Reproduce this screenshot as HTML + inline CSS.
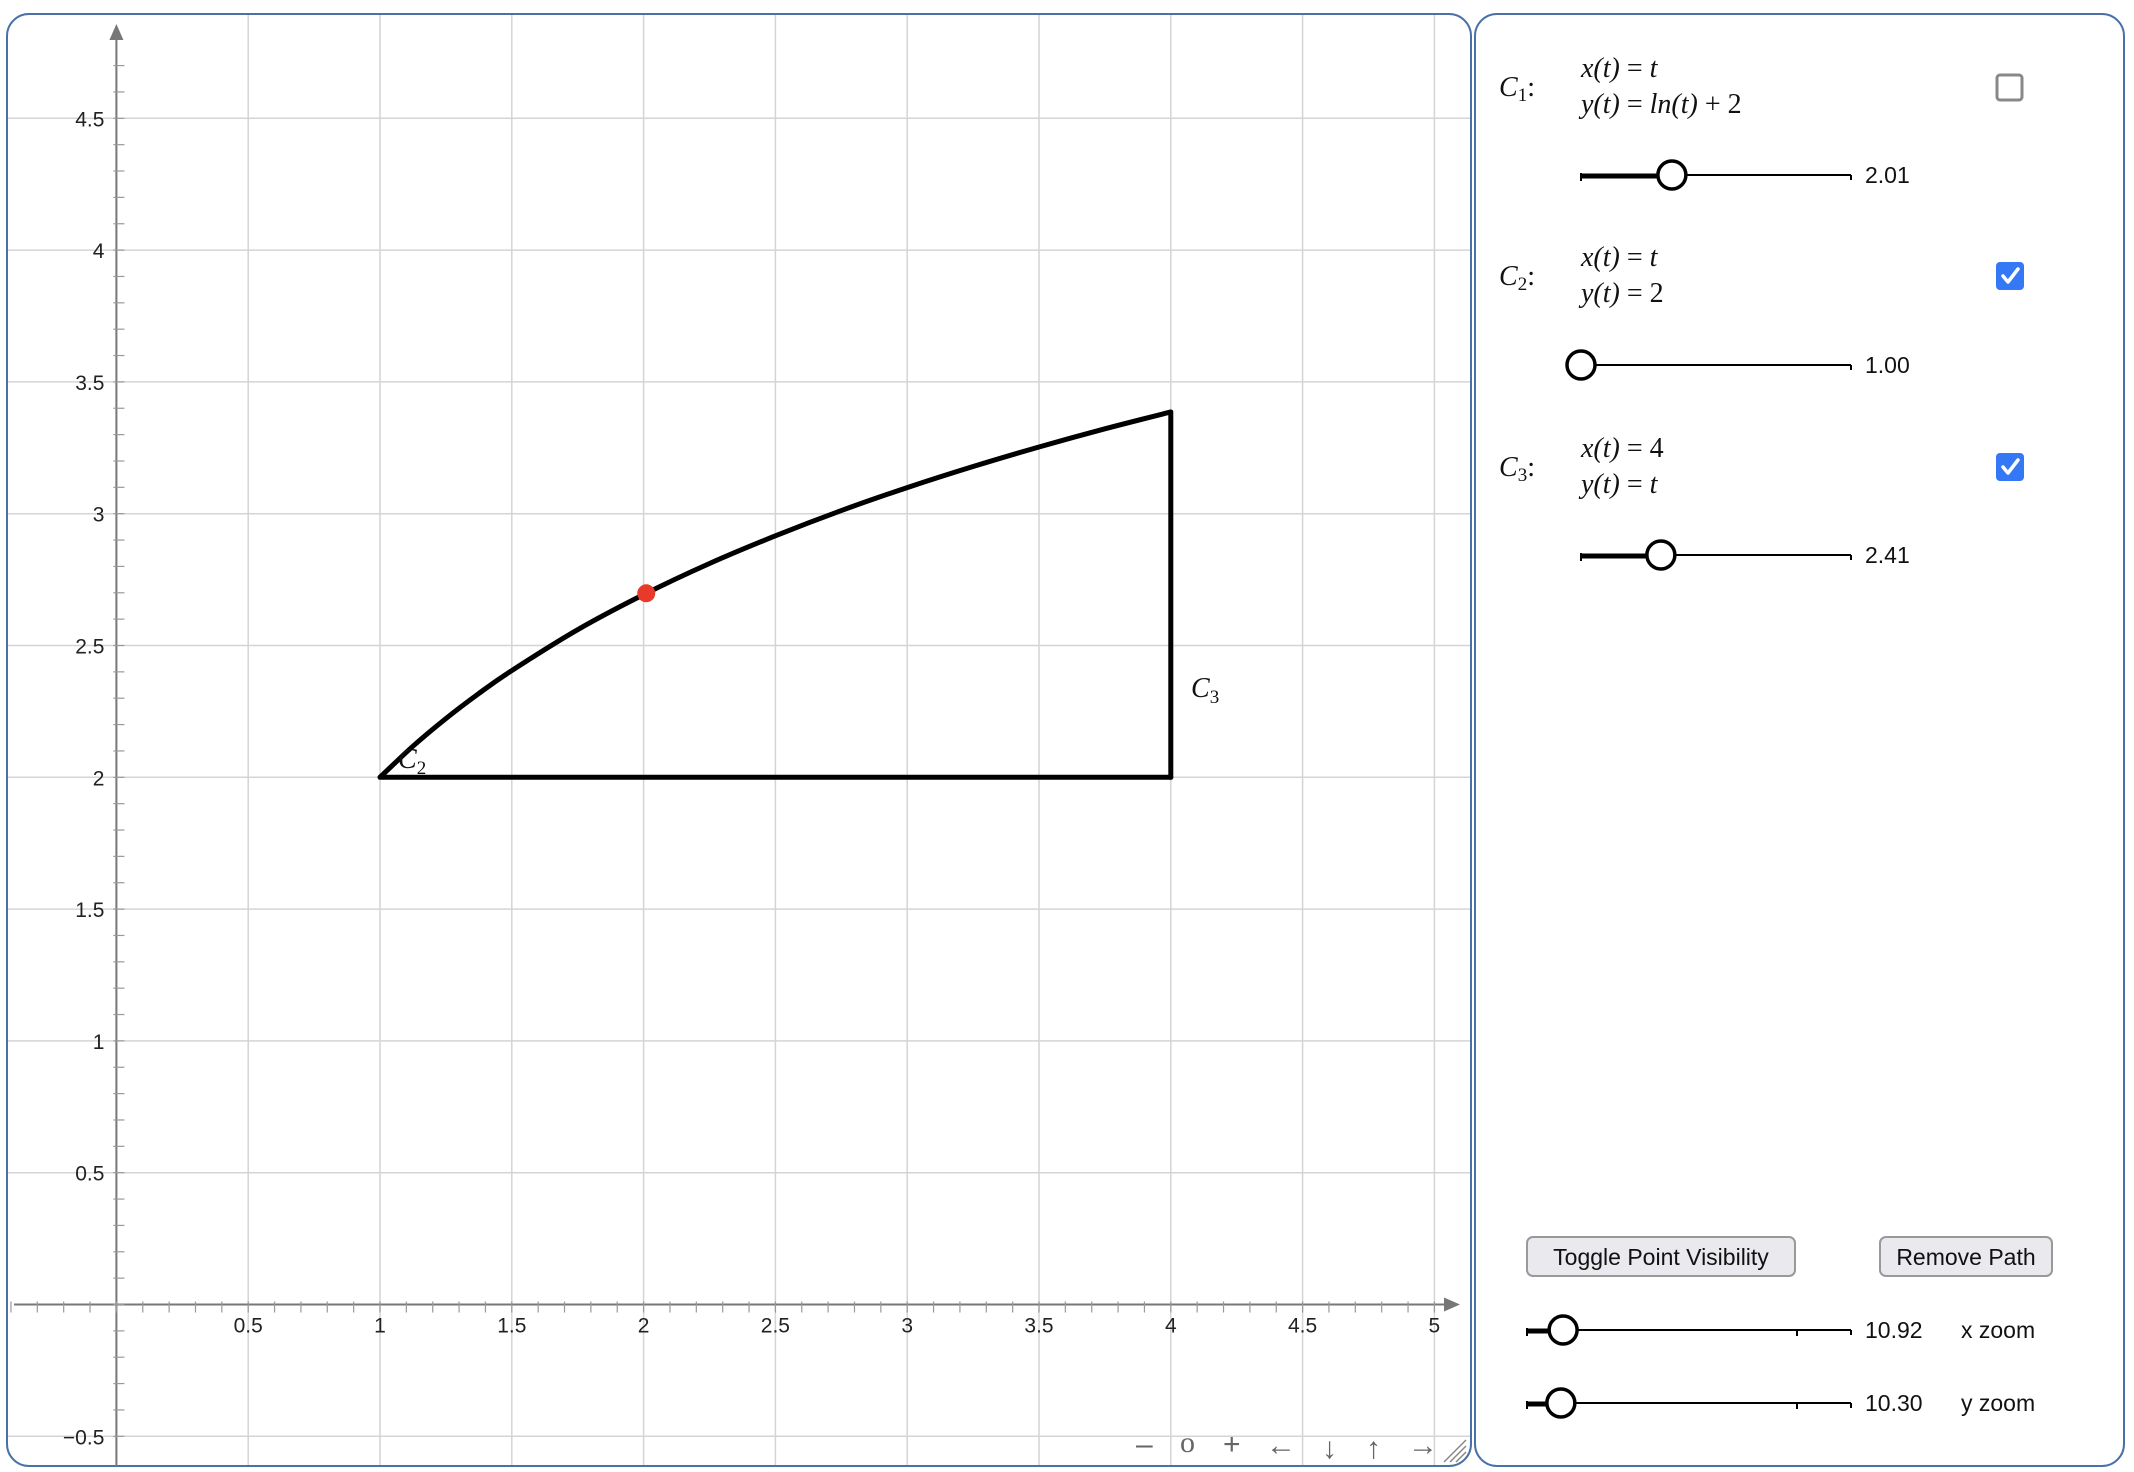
<!DOCTYPE html>
<html><head><meta charset="utf-8"><style>
html,body{margin:0;padding:0;background:#fff;}
svg{display:block;}
.tick{font-family:"Liberation Sans",sans-serif;font-size:21px;fill:#222;}
.math{font-family:"Liberation Serif",serif;font-style:italic;font-size:28px;fill:#111;}
.mathn{font-family:"Liberation Serif",serif;font-style:normal;}
.val{font-family:"Liberation Sans",sans-serif;font-size:23px;fill:#111;}
.btn{font-family:"Liberation Sans",sans-serif;font-size:23px;fill:#111;}
.nav{font-family:"Liberation Sans","DejaVu Sans",sans-serif;font-size:30px;fill:#666;}
</style></head><body>
<svg id="root" width="2134" height="1472" viewBox="0 0 2134 1472" xmlns="http://www.w3.org/2000/svg">
<rect x="7" y="14" width="1464" height="1452" rx="22" fill="#fff" stroke="#4a70a8" stroke-width="2"/>
<rect x="1475" y="14" width="649" height="1452" rx="22" fill="#fff" stroke="#4a70a8" stroke-width="2"/>
<g id="grid"></g>
<g id="axes"></g>
<g id="curves"></g>
<text class="math" x="398" y="768">C<tspan font-size="19" dy="6" class="mathn">2</tspan></text>
<text class="math" x="1191" y="697">C<tspan font-size="19" dy="6" class="mathn">3</tspan></text>
<g class="nav">
<text x="1136" y="1454">–</text>
<text x="1180" y="1452" style="font-family:'Liberation Serif',serif">o</text>
<text x="1223" y="1454">+</text>
<text x="1266" y="1455">←</text>
<text x="1322" y="1458">↓</text>
<text x="1366" y="1458">↑</text>
<text x="1408" y="1455">→</text>
</g>
<path d="M1444 1462 L1466 1440 M1450 1462 L1466 1446 M1456 1462 L1466 1452" stroke="#888" stroke-width="1.5"/>

<g>
<text class="math" x="1499" y="96">C<tspan font-size="19" dy="5" class="mathn">1</tspan><tspan dy="-5" class="mathn">:</tspan></text>
<text class="math" x="1581" y="77">x(t) <tspan class="mathn">=</tspan> t</text>
<text class="math" x="1581" y="113">y(t) <tspan class="mathn">=</tspan> ln(t) <tspan class="mathn">+ 2</tspan></text>
<rect x="1997" y="75" width="25" height="25" rx="3" fill="#fff" stroke="#888" stroke-width="3"/>
</g>
<g>
<text class="math" x="1499" y="285">C<tspan font-size="19" dy="5" class="mathn">2</tspan><tspan dy="-5" class="mathn">:</tspan></text>
<text class="math" x="1581" y="266">x(t) <tspan class="mathn">=</tspan> t</text>
<text class="math" x="1581" y="302">y(t) <tspan class="mathn">= 2</tspan></text>
<g><rect x="1996" y="262" width="28" height="28" rx="4" fill="#3478f6"/><path d="M2003 276 L2008 282 L2018 269" stroke="#fff" stroke-width="3.5" fill="none" stroke-linecap="round" stroke-linejoin="round"/></g>
</g>
<g>
<text class="math" x="1499" y="476">C<tspan font-size="19" dy="5" class="mathn">3</tspan><tspan dy="-5" class="mathn">:</tspan></text>
<text class="math" x="1581" y="457">x(t) <tspan class="mathn">= 4</tspan></text>
<text class="math" x="1581" y="493">y(t) <tspan class="mathn">=</tspan> t</text>
<g><rect x="1996" y="453" width="28" height="28" rx="4" fill="#3478f6"/><path d="M2003 467 L2008 473 L2018 460" stroke="#fff" stroke-width="3.5" fill="none" stroke-linecap="round" stroke-linejoin="round"/></g>
</g>
<g id="sliders"></g>
<g><rect x="1527" y="1237" width="268" height="39" rx="6" fill="#e9e9ee" stroke="#999" stroke-width="2"/><text class="btn" x="1661" y="1265" text-anchor="middle">Toggle Point Visibility</text></g>
<g><rect x="1880" y="1237" width="172" height="39" rx="6" fill="#e9e9ee" stroke="#999" stroke-width="2"/><text class="btn" x="1966" y="1265" text-anchor="middle">Remove Path</text></g>
<text class="val" x="1961" y="1338">x zoom</text>
<text class="val" x="1961" y="1411">y zoom</text>
</svg>
<script>
const xTicks=[0.5,1,1.5,2,2.5,3,3.5,4,4.5,5];
const yTicks=[-0.5,0.5,1,1.5,2,2.5,3,3.5,4,4.5];
const gridX=[-0.5,0,0.5,1,1.5,2,2.5,3,3.5,4,4.5,5];
const gridY=[-0.5,0,0.5,1,1.5,2,2.5,3,3.5,4,4.5];
const c1T=[1,1.125,1.25,1.375,1.5,1.75,2,2.25,2.5,2.75,3,3.25,3.5,3.75,4];
const c1Y=[2,2.118,2.223,2.318,2.405,2.560,2.693,2.811,2.916,3.012,3.099,3.179,3.253,3.322,3.386];
const c2X=[1,4];const c2Y=[2,2];
const c3X=[4,4];const c3Y=[2,3.386];
const pointX=[2.01];const pointY=[2.698];
const sliderVals=[2.01,1.00,2.41];
const sliderMin=[1,1,2];const sliderMax=[4,4,3.386];
const zoomVals=[10.92,10.30];
const zoomMin=[1,1];const zoomMax=[90,90];

const NS="http://www.w3.org/2000/svg";
const X0=116.4,Y0=1304.5,U=263.6;
const sx=v=>X0+v*U, sy=v=>Y0-v*U;
function mk(tag,attrs,parent,txt){const e=document.createElementNS(NS,tag);for(const k in attrs)e.setAttribute(k,attrs[k]);if(txt!==undefined)e.textContent=txt;parent.appendChild(e);return e;}
const grid=document.getElementById('grid');
gridX.forEach(v=>{if(v===0)return;const l=mk('line',{x1:sx(v),x2:sx(v),y1:15,y2:1465,stroke:'#d4d4d4','stroke-width':1.5},grid);

});
gridY.forEach(v=>{if(v===0)return;const l=mk('line',{x1:8,x2:1470,y1:sy(v),y2:sy(v),stroke:'#d4d4d4','stroke-width':1.5},grid);

});
const ax=document.getElementById('axes');
const xa=mk('line',{x1:14,x2:1446,y1:Y0,y2:Y0,stroke:'#777','stroke-width':2},ax);


const ya=mk('line',{x1:X0,x2:X0,y1:36,y2:1466,stroke:'#777','stroke-width':2},ax);


mk('path',{d:`M1460 ${Y0} L1444 ${Y0-7} L1444 ${Y0+7}Z`,fill:'#777'},ax);
mk('path',{d:`M${X0} 24 L${X0-7} 40 L${X0+7} 40Z`,fill:'#777'},ax);
for(let i=-5;i<=51;i++){const v=i/10;const x=sx(v);if(x>1440||x<10)continue;mk('line',{x1:x,x2:x,y1:Y0-3,y2:Y0+8,stroke:'#999','stroke-width':1.2},ax);}
for(let i=-5;i<=47;i++){const v=i/10;const y=sy(v);if(y<40)continue;mk('line',{x1:X0-3,x2:X0+8,y1:y,y2:y,stroke:'#999','stroke-width':1.2},ax);}
xTicks.forEach(v=>{const t=mk('text',{class:'tick',x:sx(v),y:Y0+28,'text-anchor':'middle'},ax,String(v));

});
yTicks.forEach(v=>{const t=mk('text',{class:'tick',x:X0-12,y:sy(v)+8,'text-anchor':'end'},ax,v<0?'−'+Math.abs(v):String(v));

});
const cg=document.getElementById('curves');
function smooth(xs,ys){const P=xs.map((x,i)=>[sx(x),sy(ys[i])]);let d=`M${P[0][0]} ${P[0][1]}`;
for(let i=0;i<P.length-1;i++){const p0=P[Math.max(0,i-1)],p1=P[i],p2=P[i+1],p3=P[Math.min(P.length-1,i+2)];
d+=` C${p1[0]+(p2[0]-p0[0])/6} ${p1[1]+(p2[1]-p0[1])/6} ${p2[0]-(p3[0]-p1[0])/6} ${p2[1]-(p3[1]-p1[1])/6} ${p2[0]} ${p2[1]}`;}return d;}
const p1=mk('path',{d:smooth(c1T,c1Y),fill:'none',stroke:'#000','stroke-width':5,'stroke-linejoin':'round'},cg);


const p2=mk('polyline',{points:c2X.map((x,i)=>sx(x)+','+sy(c2Y[i])).join(' '),fill:'none',stroke:'#000','stroke-width':5,'stroke-linecap':'round'},cg);


const p3=mk('polyline',{points:c3X.map((x,i)=>sx(x)+','+sy(c3Y[i])).join(' '),fill:'none',stroke:'#000','stroke-width':5,'stroke-linecap':'round'},cg);


pointX.forEach((x,i)=>{const c=mk('circle',{cx:sx(x),cy:sy(pointY[i]),r:9,fill:'#e8392a'},cg);

});
const sg=document.getElementById('sliders');
function slider(y,x1,x2,frac,label,name,tick){
 const g=mk('g',{},sg);
 
 
 const tx=x1+frac*(x2-x1);
 mk('line',{x1:x1,x2:x2,y1:y,y2:y,stroke:'#000','stroke-width':2},g);
 mk('line',{x1:x2,x2:x2,y1:y,y2:y+5,stroke:'#000','stroke-width':2},g);
 if(tick)mk('line',{x1:tick,x2:tick,y1:y,y2:y+6,stroke:'#000','stroke-width':2},g);
 mk('line',{x1:x1,x2:x1,y1:y-2,y2:y+6,stroke:'#000','stroke-width':2},g);
 if(tx>x1)mk('line',{x1:x1,x2:tx,y1:y+1,y2:y+1,stroke:'#000','stroke-width':5},g);
 mk('circle',{cx:tx,cy:y,r:14,fill:'#fff',stroke:'#000','stroke-width':3.5},g);
 mk('text',{class:'val',x:x2+14,y:y+8},g,label);
}
const sy0=[175,365,555];
sliderVals.forEach((v,i)=>slider(sy0[i],1581,1851,(v-sliderMin[i])/(sliderMax[i]-sliderMin[i]),v.toFixed(2),'slider-c'+(i+1)));
const zy=[1330,1403];
zoomVals.forEach((v,i)=>slider(zy[i],1527,1851,(v-zoomMin[i])/(zoomMax[i]-zoomMin[i]),v.toFixed(2),i?'y-zoom-slider':'x-zoom-slider',1797));
</script>
</body></html>
